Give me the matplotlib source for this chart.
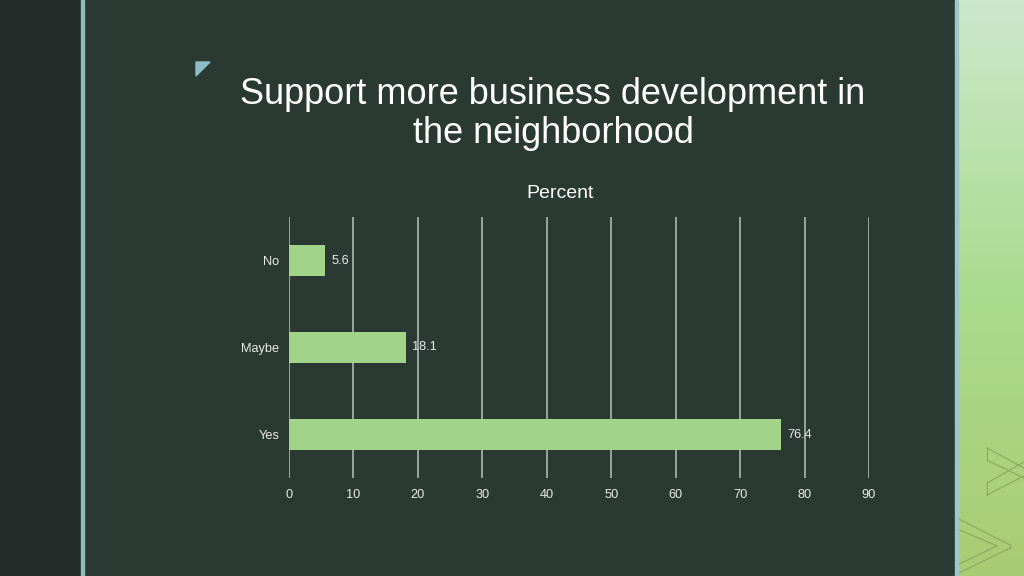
import numpy as np
import matplotlib.pyplot as plt
from matplotlib.patches import Rectangle, Polygon

plt.rcParams['font.family'] = ['Liberation Sans', 'DejaVu Sans']

# data
categories = ['Yes', 'Maybe', 'No']
percent = [76.4, 18.1, 5.6]
x_ticks = [0, 10, 20, 30, 40, 50, 60, 70, 80, 90]

W, H = 1024, 576
fig = plt.figure(figsize=(W / 100, H / 100), dpi=100)
fig.patch.set_facecolor('#2b3933')

def px(x0, y0, x1, y1):
    # pixel box -> figure fraction rect
    return (x0 / W, 1 - y1 / H, (x1 - x0) / W, (y1 - y0) / H)

# slide decorations
l, b, w, h = px(0, 0, 81, H)
fig.patches.append(Rectangle((l, b), w, h, transform=fig.transFigure, color='#222b28', zorder=0))
l, b, w, h = px(81, 0, 84, H)
fig.patches.append(Rectangle((l, b), w, h, transform=fig.transFigure, color='#8ebcc0', zorder=1))

# right gradient strip
grad_ax = fig.add_axes(px(955, 0, W, H))
t = np.linspace(0, 1, 256)
top = np.array([0.80, 0.91, 0.80])
mid = np.array([0.67, 0.86, 0.56])
bot = np.array([0.66, 0.80, 0.45])
cols = []
for v in t:
    if v < 0.5:
        cols.append(top + (mid - top) * (v / 0.5))
    else:
        cols.append(mid + (bot - mid) * ((v - 0.5) / 0.5))
img = np.array(cols)[:, None, :]
grad_ax.imshow(img, aspect='auto', extent=(0, 69, 576, 0))
grad_ax.set_xlim(0, 69)
grad_ax.set_ylim(576, 0)
grad_ax.axis('off')
# faint chevron outlines
for pts in [[(32, 448), (69, 468)], [(32, 495), (69, 476)], [(32, 448), (32, 460)], [(32, 495), (32, 483)],
            [(32, 460), (69, 478)], [(32, 483), (69, 462)],
            [(0, 517), (55, 545)], [(0, 575), (55, 548)], [(55, 545), (55, 548)],
            [(0, 528), (42, 546)], [(0, 566), (42, 546)]]:
    xs, ys = zip(*pts)
    grad_ax.plot(xs, ys, color='#8aa862', lw=0.8)
l, b, w, h = px(955, 0, 958, H)
fig.patches.append(Rectangle((l, b), w, h, transform=fig.transFigure, color='#9cc8cc', zorder=5))

# small triangle mark
fig.patches.append(Polygon([(196 / W, 1 - 62 / H), (210 / W, 1 - 62 / H), (196 / W, 1 - 76 / H)],
                           closed=True, transform=fig.transFigure, color='#8fbcc8'))

# title
fig.text(553 / W, 1 - 114 / H, 'Support more business development in\nthe neighborhood',
         ha='center', va='center', fontsize=26, color='white', linespacing=1.12)
fig.text(560 / W, 1 - 193 / H, 'Percent', ha='center', va='center', fontsize=14, color='white')

# chart
ax = fig.add_axes(px(289, 217, 869, 478))
ax.set_facecolor('none')
y_pos = np.arange(len(categories))
bars = ax.barh(y_pos, percent, height=0.35, color='#a1d488', zorder=3)
ax.set_xlim(0, 90)
ax.set_ylim(-0.5, 2.5)
ax.set_xticks(x_ticks)
ax.set_yticks(y_pos)
ax.set_yticklabels(categories)
ax.grid(axis='x', color='#a3aea8', lw=1.3, zorder=1)
ax.set_axisbelow(True)
for s in ax.spines.values():
    s.set_visible(False)
ax.tick_params(length=0, colors='#e8ece8', labelsize=9.2)
ax.tick_params(axis='x', pad=8)
ax.tick_params(axis='y', pad=7)
for rect, v in zip(bars, percent):
    ax.text(rect.get_width() + 1.0, rect.get_y() + rect.get_height() / 2, str(v),
            ha='left', va='center', fontsize=9.2, color='#e8ece8', zorder=4)

fig.savefig('out.png', dpi=100, facecolor=fig.get_facecolor())
